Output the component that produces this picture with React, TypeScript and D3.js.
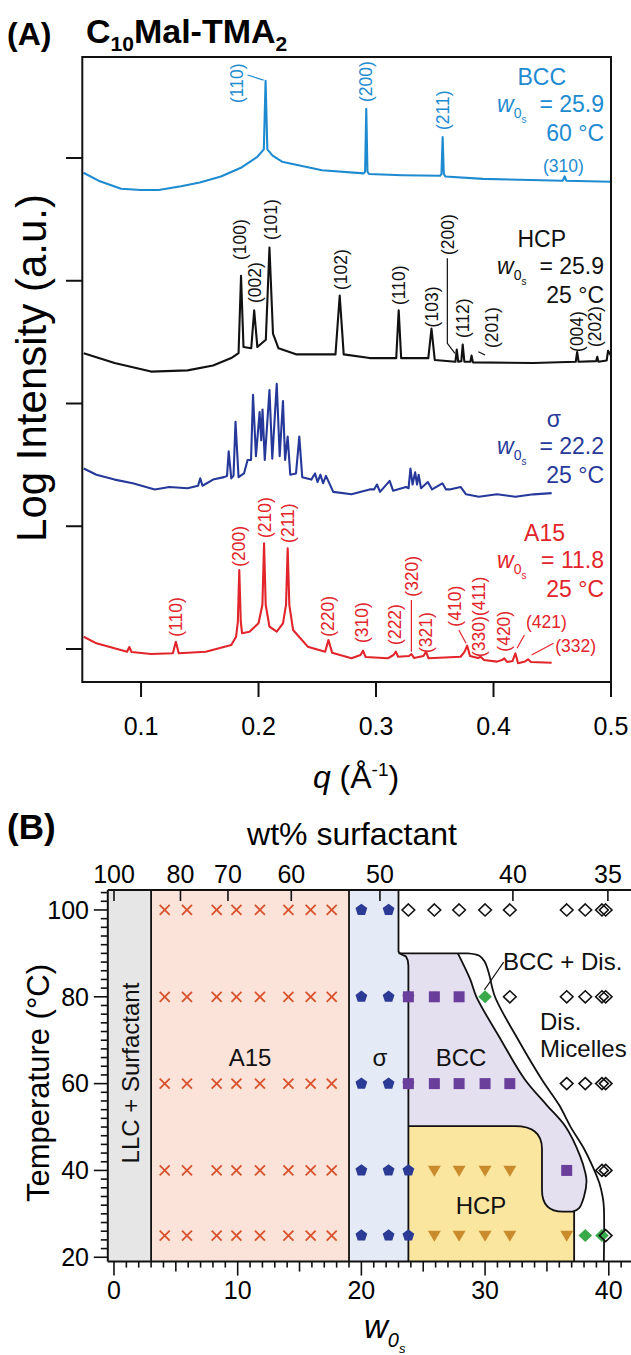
import React from "react";
import * as d3 from "d3";

type P = [number, number];

// ---------------- Panel A: SAXS traces (q in 1/Å, log intensity in offset a.u.) ----------------
const bccTrace: P[] = [
  [0.051, 3.88], [0.065, 3.81], [0.083, 3.75], [0.1, 3.74], [0.115, 3.74], [0.134, 3.77], [0.15, 3.8],
  [0.168, 3.85], [0.185, 3.92], [0.199, 4.01], [0.2045, 4.07], [0.206, 4.63], [0.2075, 4.07], [0.212, 4.02],
  [0.22, 3.97], [0.254, 3.9], [0.2895, 3.875], [0.2907, 3.89], [0.2917, 4.4], [0.2927, 3.89], [0.294, 3.87],
  [0.322, 3.86], [0.3545, 3.855], [0.3557, 3.87], [0.3567, 4.17], [0.3577, 3.87], [0.359, 3.85], [0.391, 3.83],
  [0.459, 3.815], [0.4605, 3.85], [0.462, 3.815], [0.5, 3.807],
];

const hcpTrace: P[] = [
  [0.0512, 2.41], [0.0775, 2.33], [0.1085, 2.26], [0.1396, 2.27], [0.1613, 2.31], [0.1768, 2.37], [0.183, 2.41],
  [0.1851, 3.04], [0.1872, 2.46], [0.1938, 2.45], [0.1963, 2.76], [0.199, 2.46], [0.2062, 2.52], [0.2093, 3.27],
  [0.2123, 2.57], [0.217, 2.45], [0.2325, 2.4], [0.2655, 2.4], [0.2691, 2.88], [0.2725, 2.4], [0.2946, 2.37],
  [0.3172, 2.37], [0.3193, 2.76], [0.3214, 2.37], [0.3445, 2.37], [0.3472, 2.61], [0.35, 2.355], [0.3676, 2.34],
  [0.3687, 2.44], [0.37, 2.34], [0.3726, 2.345], [0.3738, 2.48], [0.3752, 2.34], [0.3803, 2.34], [0.3813, 2.39],
  [0.3825, 2.335], [0.434, 2.33], [0.47, 2.34], [0.4712, 2.42], [0.4724, 2.34], [0.4873, 2.345], [0.4883, 2.38],
  [0.4893, 2.34], [0.4963, 2.35], [0.4975, 2.43], [0.5006, 2.38],
];

const sigmaTrace: P[] = [
  [0.0512, 1.47], [0.062, 1.42], [0.0775, 1.38], [0.093, 1.35], [0.1117, 1.3], [0.1241, 1.32], [0.1396, 1.31],
  [0.1485, 1.33], [0.1504, 1.39], [0.1523, 1.33], [0.1613, 1.38], [0.1706, 1.4], [0.1732, 1.41], [0.1746, 1.61],
  [0.1768, 1.39], [0.1787, 1.41], [0.1804, 1.85], [0.183, 1.4], [0.1876, 1.43], [0.1907, 1.54], [0.1936, 1.54],
  [0.1953, 2.07], [0.1978, 1.57], [0.2009, 1.93], [0.2023, 1.7], [0.2034, 1.95], [0.2053, 1.54], [0.2093, 2.11],
  [0.2117, 1.55], [0.2155, 2.16], [0.218, 1.57], [0.2208, 2.02], [0.2226, 1.54], [0.2248, 1.73], [0.227, 1.42],
  [0.2319, 1.43], [0.2347, 1.73], [0.2372, 1.4], [0.2449, 1.38], [0.2481, 1.43], [0.2502, 1.36], [0.2527, 1.42],
  [0.2549, 1.35], [0.2574, 1.41], [0.2636, 1.28], [0.2791, 1.26], [0.2946, 1.3], [0.2983, 1.3], [0.3008, 1.34],
  [0.3034, 1.28], [0.3116, 1.37], [0.3145, 1.29], [0.3255, 1.32], [0.3277, 1.31], [0.3293, 1.47], [0.3311, 1.34],
  [0.3333, 1.44], [0.3349, 1.34], [0.3363, 1.42], [0.3383, 1.31], [0.3441, 1.36], [0.3477, 1.3], [0.3565, 1.35],
  [0.3596, 1.3], [0.3627, 1.3], [0.372, 1.32], [0.3766, 1.26], [0.3875, 1.24], [0.403, 1.26], [0.4186, 1.24],
  [0.434, 1.26], [0.4495, 1.27],
];

const a15Trace: P[] = [
  [0.0512, 0.1], [0.062, 0.046], [0.0881, -0.022], [0.09, 0.016], [0.0919, -0.024], [0.1085, -0.041],
  [0.1271, -0.035], [0.1296, 0.059], [0.1321, -0.035], [0.1551, -0.022], [0.1768, 0.033], [0.1809, 0.1],
  [0.1824, 0.22], [0.1836, 0.644], [0.1849, 0.22], [0.186, 0.128], [0.1923, 0.141], [0.2, 0.209],
  [0.2033, 0.36], [0.2047, 0.861], [0.2061, 0.36], [0.2093, 0.182], [0.2155, 0.141], [0.2208, 0.209],
  [0.2234, 0.36], [0.2248, 0.82], [0.2262, 0.36], [0.2294, 0.155], [0.2419, 0.019], [0.2567, -0.022],
  [0.2595, 0.073], [0.2626, -0.03], [0.2791, -0.076], [0.2868, -0.049], [0.2889, -0.014], [0.2911, -0.065],
  [0.31, -0.076], [0.3149, -0.049], [0.3169, -0.022], [0.3187, -0.063], [0.3281, -0.057], [0.3301, -0.041],
  [0.3323, -0.073], [0.3404, -0.057], [0.3426, -0.022], [0.3447, -0.076], [0.372, -0.063], [0.3753, -0.024],
  [0.3776, 0.027], [0.38, -0.057], [0.3868, -0.073], [0.3891, -0.063], [0.3919, -0.09], [0.403, -0.103],
  [0.4072, -0.09], [0.4092, -0.076], [0.4115, -0.106], [0.4162, -0.098], [0.4186, -0.035], [0.4209, -0.116],
  [0.4268, -0.102], [0.4294, -0.084], [0.4319, -0.106], [0.4495, -0.112],
];

const qTicks = [0.1, 0.2, 0.3, 0.4, 0.5];
const intensityTicks = [0, 1, 2, 3, 4];

// rotated (hkl) labels: text, q of label centre, log I at label bottom
const bccLabels: [string, number, number][] = [["(110)", 0.1814, 4.448], ["(200)", 0.2917, 4.456], ["(211)", 0.3567, 4.228]];
const bccFlatLabels: [string, number, number][] = [["(310)", 0.4421, 3.889]];
const bccLeaders: P[][] = [[[0.1906, 4.676], [0.2043, 4.635]]];

const hcpLabels: [string, number, number][] = [
  ["(100)", 0.1845, 3.169], ["(002)", 0.1969, 2.819], ["(101)", 0.2102, 3.332], ["(102)", 0.2704, 2.925],
  ["(110)", 0.3193, 2.802], ["(103)", 0.3478, 2.62], ["(200)", 0.3615, 3.21], ["(112)", 0.3743, 2.534],
  ["(201)", 0.3985, 2.452], ["(004)", 0.4712, 2.42], ["(202)", 0.4867, 2.46],
];
const hcpLeaders: P[][] = [
  [[0.3607, 3.183], [0.3607, 2.49], [0.3672, 2.409]],
  [[0.3871, 2.422], [0.3928, 2.395]],
];

const a15Labels: [string, number, number][] = [
  ["(110)", 0.1296, 0.1], ["(200)", 0.183, 0.67], ["(210)", 0.2053, 0.904], ["(211)", 0.2248, 0.864],
  ["(220)", 0.2589, 0.1], ["(310)", 0.2883, 0.049], ["(222)", 0.3162, 0.033], ["(320)", 0.3301, 0.426],
  ["(321)", 0.3426, -0.033], ["(410)", 0.3674, 0.182], ["(330)(411)", 0.3875, -0.065], ["(420)", 0.4092, -0.022],
];
const a15FlatLabels: [string, number, number][] = [["(421)", 0.4277, 0.169], ["(332)", 0.4526, -0.022]];
const a15Leaders: P[][] = [
  [[0.3301, 0.399], [0.3301, -0.022]],
  [[0.3705, 0.155], [0.3766, 0.046]],
  [[0.4263, 0.114], [0.42, 0.006]],
  [[0.4511, 0.046], [0.4324, -0.049]],
];

// ---------------- Panel B: phase diagram ----------------
const wTicks = [0, 10, 20, 30, 40];
const tempTicks = [20, 40, 60, 80, 100];
const wtPercentTicks = [100, 80, 70, 60, 50, 40, 35];
const waterPerSurfactant = 21.5; // converts wt% surfactant to w0s

const rowTemps = [100, 80, 60, 40, 25];
const sampleW = [4.1, 5.9, 8.3, 9.9, 11.8, 14.1, 15.9, 17.6, 20.0, 22.2, 23.8, 25.9, 27.9, 30.0, 32.0, 36.6, 38.1, 39.45, 39.75];
// X: A15, P: sigma, Q: sigma+BCC, S: BCC, T: HCP, G: coexistence, D: disordered micelles, -: none
const rowPhases = [
  "XXXXXXXXPPDDDDDDDDD",
  "XXXXXXXXPPQSSGDDDDD",
  "XXXXXXXXPPQSSSSDDDD",
  "XXXXXXXXPPPTTTTS-DD",
  "XXXXXXXXPPPTTTTTGGD",
];

const llcEdge = 3.0;
const a15Edge = 19.0;
const sigmaBoundary: P[] = [[23.0, 104.6], [23.0, 90.4], [23.2, 89.8], [23.6, 89.3], [23.75, 88.4], [23.8, 87.2], [23.8, 19]];
const bccInnerLine: P[] = [
  [27.8, 90], [28.8, 84], [29.3, 80], [31.3, 70], [33.2, 61], [35.0, 55], [36.5, 50.1], [37.7, 43.2],
  [38.1, 39.5], [38.2, 37.5], [38.0, 34], [37.6, 31.3], [37.1, 30.5],
];
const disOuterLine: P[] = [
  [28.6, 90], [29.5, 89.5], [29.95, 88.2], [30.3, 85.5], [30.8, 80], [32.7, 70], [34.6, 60.9], [36.0, 55],
  [36.9, 50.1], [38.0, 45], [38.7, 40.9], [39.25, 37], [39.5, 34], [39.6, 31.7], [39.6, 19],
];

const cBCC = "#1e8bd1";
const cHCP = "#111111";
const cSIG = "#26399a";
const cA15 = "#e2242b";

const FONT = "'Liberation Sans', Arial, Helvetica, sans-serif";

function pentagon(r: number) {
  const pts = d3.range(5).map((k) => {
    const a = (-90 + 72 * k) * (Math.PI / 180);
    return [r * Math.cos(a), r * Math.sin(a)];
  });
  return "M" + pts.map((p) => p.join(",")).join("L") + "Z";
}

function Marker({ code, x, y }: { code: string; x: number; y: number }) {
  const t = `translate(${x},${y})`;
  const pent = <path transform={t} d={pentagon(6.2)} fill="#2b3a94" />;
  const sq = <path transform={t} d="M-5.5,-5.5h11v11h-11Z" fill="#6a3f9c" />;
  switch (code) {
    case "X":
      return <path transform={t} d="M-5,-5L5,5M5,-5L-5,5" stroke="#d9512b" strokeWidth={1.8} fill="none" />;
    case "P":
      return pent;
    case "Q":
      return (
        <g>
          {pent}
          {sq}
        </g>
      );
    case "S":
      return sq;
    case "T":
      return <path transform={t} d="M-6.5,-4.8L6.5,-4.8L0,6.2Z" fill="#c98b2c" />;
    case "G":
      return <path transform={t} d="M0,-6.5L6.8,0L0,6.5L-6.8,0Z" fill="#3aa94a" />;
    case "D":
      return <path transform={t} d="M0,-6L6.3,0L0,6L-6.3,0Z" fill="none" stroke="#111" strokeWidth={1.6} />;
    default:
      return null;
  }
}

export default function App() {
  const W = 631;
  const H = 1355;

  // Panel A scales
  const xA = d3.scaleLinear().domain([0.05, 0.5]).range([82.3, 611]);
  const yA = d3.scaleLinear().domain([-0.269, 4.823]).range([682, 57]);
  const lineA = d3.line<P>().x((d) => xA(d[0])).y((d) => yA(d[1]));

  // Panel B scales
  const xB = d3.scaleLinear().domain([-0.5, 42.5]).range([107.8, 639.7]);
  const yB = d3.scaleLinear().domain([19, 104.6]).range([1261.6, 890]);
  const lineB = d3.line<P>().x((d) => xB(d[0])).y((d) => yB(d[1]));
  const curveB = d3.line<P>().x((d) => xB(d[0])).y((d) => yB(d[1])).curve(d3.curveCatmullRom.alpha(0.5));

  const [bTop, bBot] = [yB(104.6), yB(19)];
  const bLeft = xB(-0.5);

  const sigmaFill = lineB([[a15Edge, 19], [a15Edge, 104.6], ...sigmaBoundary]) + "Z";
  const innerPath = curveB(bccInnerLine) as string;
  const lavender =
    innerPath +
    `L${xB(23.8)},${yB(30.5)}L${xB(23.8)},${yB(87.2)}L${xB(23.75)},${yB(88.4)}L${xB(23.6)},${yB(89.3)}L${xB(23.2)},${yB(89.8)}L${xB(23.0)},${yB(90)}Z`;
  const outerPath = `M${xB(23.0)},${yB(90)}` + (curveB(disOuterLine) as string).replace(/^M/, "L");

  const hcp = d3.path();
  hcp.moveTo(xB(23.8), yB(50.2));
  hcp.lineTo(xB(32.4), yB(50.2));
  hcp.quadraticCurveTo(xB(34.6), yB(50.2), xB(34.6), yB(45.0));
  hcp.lineTo(xB(34.6), yB(35.5));
  hcp.quadraticCurveTo(xB(34.6), yB(30.5), xB(36.3), yB(30.5));
  hcp.lineTo(xB(37.2), yB(30.5));
  hcp.lineTo(xB(37.2), yB(19));
  const hcpLine = hcp.toString();
  const hcpFill = hcpLine + `L${xB(23.8)},${yB(19)}Z`;

  const wtToW = (wt: number) => (100 / wt - 1) * waterPerSurfactant;

  const rotLabel = (txt: string, x: number, y: number, color: string, key: string) => (
    <text key={key} transform={`translate(${x},${y}) rotate(-90)`} dy="0.35em" fill={color} fontSize={17.5}>
      {txt}
    </text>
  );

  const legend = (name: string, nameX: number, wVal: string, temp: string, color: string, y0: number, key: string) => (
    <g key={key} fill={color} fontSize={23}>
      <text x={nameX} y={y0} textAnchor="end">{name}</text>
      <text x={497} y={y0 + 27}>
        <tspan fontStyle="italic">w</tspan>
        <tspan fontSize={14} dy={6}>0</tspan>
        <tspan fontSize={10} dy={5}>s</tspan>
      </text>
      <text x={604} y={y0 + 27} textAnchor="end">{"= " + wVal}</text>
      <text x={604} y={y0 + 56} textAnchor="end">{temp}</text>
    </g>
  );

  return (
    <svg
      width={W}
      height={H}
      viewBox={`0 0 ${W} ${H}`}
      style={{ position: "absolute", left: 0, top: 0, background: "#fff" }}
      fontFamily={FONT}
    >
      <defs>
        <clipPath id="clipA">
          <rect x={xA(0.05)} y={57} width={xA(0.5) - xA(0.05)} height={625} />
        </clipPath>
      </defs>

      {/* ================= Panel A ================= */}
      <text x={7} y={45} fontSize={32} fontWeight="bold">(A)</text>
      <text x={86} y={43} fontSize={34} fontWeight="bold">
        C<tspan fontSize={21} dy={8}>10</tspan>
        <tspan dy={-8}>Mal-TMA</tspan>
        <tspan fontSize={21} dy={8}>2</tspan>
      </text>

      <g clipPath="url(#clipA)" fill="none" strokeWidth={2.1} strokeLinejoin="round">
        <path d={lineA(bccTrace) as string} stroke={cBCC} />
        <path d={lineA(hcpTrace) as string} stroke={cHCP} />
        <path d={lineA(sigmaTrace) as string} stroke={cSIG} />
        <path d={lineA(a15Trace) as string} stroke={cA15} />
      </g>

      {/* peak labels */}
      {bccLabels.map((l, i) => rotLabel(l[0], xA(l[1]), yA(l[2]), cBCC, "b" + i))}
      {bccFlatLabels.map((l, i) => (
        <text key={"bf" + i} x={xA(l[1])} y={yA(l[2])} fill={cBCC} fontSize={17.5}>{l[0]}</text>
      ))}
      {bccLeaders.map((l, i) => (
        <path key={"bl" + i} d={lineA(l) as string} stroke={cBCC} strokeWidth={1.2} fill="none" />
      ))}
      {hcpLabels.map((l, i) => rotLabel(l[0], xA(l[1]), yA(l[2]), cHCP, "h" + i))}
      {hcpLeaders.map((l, i) => (
        <path key={"hl" + i} d={lineA(l) as string} stroke={cHCP} strokeWidth={1.2} fill="none" />
      ))}
      {a15Labels.map((l, i) => rotLabel(l[0], xA(l[1]), yA(l[2]), cA15, "a" + i))}
      {a15FlatLabels.map((l, i) => (
        <text key={"af" + i} x={xA(l[1])} y={yA(l[2])} fill={cA15} fontSize={17.5}>{l[0]}</text>
      ))}
      {a15Leaders.map((l, i) => (
        <path key={"al" + i} d={lineA(l) as string} stroke={cA15} strokeWidth={1.2} fill="none" />
      ))}

      {legend("BCC", 566, "25.9", "60 °C", cBCC, 85, "lg1")}
      {legend("HCP", 566, "25.9", "25 °C", cHCP, 246.7, "lg2")}
      {legend("σ", 561, "22.2", "25 °C", cSIG, 426.7, "lg3")}
      {legend("A15", 565, "11.8", "25 °C", cA15, 540.5, "lg4")}

      {/* frame and axes A */}
      <rect x={xA(0.05)} y={57} width={xA(0.5) - xA(0.05)} height={625} fill="none" stroke="#111" strokeWidth={2} />
      {intensityTicks.map((t) => (
        <line key={"yt" + t} x1={66} x2={xA(0.05)} y1={yA(t)} y2={yA(t)} stroke="#111" strokeWidth={2} />
      ))}
      {qTicks.map((t) => (
        <g key={"xt" + t}>
          <line x1={xA(t)} x2={xA(t)} y1={682} y2={697} stroke="#111" strokeWidth={2} />
          <text x={xA(t)} y={735} textAnchor="middle" fontSize={25}>{t.toFixed(1)}</text>
        </g>
      ))}
      <text transform="translate(46,368) rotate(-90)" textAnchor="middle" fontSize={42}>Log Intensity (a.u.)</text>
      <text x={356} y={788} textAnchor="middle" fontSize={32}>
        <tspan fontStyle="italic">q</tspan> (Å<tspan fontSize={19} dy={-12}>-1</tspan>
        <tspan dy={12}>)</tspan>
      </text>

      {/* ================= Panel B ================= */}
      <text x={7} y={839} fontSize={35} fontWeight="bold">(B)</text>
      <text x={352} y={845} textAnchor="middle" fontSize={32}>wt% surfactant</text>

      <rect x={bLeft} y={bTop} width={xB(llcEdge) - bLeft} height={bBot - bTop} fill="#e6e6e6" />
      <rect x={xB(llcEdge)} y={bTop} width={xB(a15Edge) - xB(llcEdge)} height={bBot - bTop} fill="#fbe3da" />
      <path d={sigmaFill} fill="#e4eaf6" />
      <path d={lavender} fill="#e5e0f0" />
      <path d={hcpFill} fill="#fbe6a0" />

      <g fill="none" stroke="#111" strokeWidth={1.8} strokeLinejoin="round">
        <line x1={xB(llcEdge)} x2={xB(llcEdge)} y1={bTop} y2={bBot} />
        <line x1={xB(a15Edge)} x2={xB(a15Edge)} y1={bTop} y2={bBot} />
        <path d={lineB(sigmaBoundary) as string} />
        <path d={innerPath} />
        <path d={outerPath} />
        <path d={hcpLine} />
      </g>

      {rowTemps.map((T, r) =>
        sampleW.map((w, i) => <Marker key={`m${r}-${i}`} code={rowPhases[r][i]} x={xB(w)} y={yB(T)} />)
      )}

      <g fontSize={24} fill="#111">
        <text x={250} y={1066} textAnchor="middle">A15</text>
        <text x={380} y={1066} textAnchor="middle">σ</text>
        <text x={461} y={1066} textAnchor="middle">BCC</text>
        <text x={481} y={1214} textAnchor="middle">HCP</text>
        <text x={540} y={1030}>Dis.</text>
        <text x={540} y={1057}>Micelles</text>
        <text x={503} y={970}>BCC + Dis.</text>
        <text transform="translate(131,1073) rotate(-90)" textAnchor="middle" dy="0.35em">LLC + Surfactant</text>
      </g>
      <path d={lineB([[31.5, 88.0], [29.95, 81.6]]) as string} stroke="#111" strokeWidth={1.1} fill="none" />

      {/* axes B */}
      <g stroke="#111" strokeWidth={2}>
        <line x1={bLeft} x2={bLeft} y1={bTop} y2={bBot} />
        <line x1={bLeft} x2={W} y1={bTop} y2={bTop} />
        <line x1={bLeft} x2={W} y1={bBot} y2={bBot} />
      </g>
      {d3.range(20, 105, 2).map((t) => (
        <line key={"ly" + t} x1={bLeft - (t % 20 === 0 ? 14 : 7)} x2={bLeft} y1={yB(t)} y2={yB(t)} stroke="#111" strokeWidth={1.6} />
      ))}
      {tempTicks.map((t) => (
        <text key={"tl" + t} x={89} y={yB(t)} dy="0.35em" textAnchor="end" fontSize={25}>{t}</text>
      ))}
      {d3.range(0, 43, 1).map((w) => (
        <line
          key={"bx" + w}
          x1={xB(w)}
          x2={xB(w)}
          y1={bBot}
          y2={bBot + (w % 10 === 0 ? 14 : w % 5 === 0 ? 10 : 6)}
          stroke="#111"
          strokeWidth={1.6}
        />
      ))}
      {wTicks.map((w) => (
        <text key={"wl" + w} x={xB(w)} y={1299} textAnchor="middle" fontSize={25}>{w}</text>
      ))}
      {wtPercentTicks.map((wt) => (
        <g key={"tp" + wt}>
          <line x1={xB(wtToW(wt))} x2={xB(wtToW(wt))} y1={bTop} y2={bTop + 11} stroke="#111" strokeWidth={1.6} />
          <text x={xB(wtToW(wt))} y={883} textAnchor="middle" fontSize={25}>{wt}</text>
        </g>
      ))}
      <text transform="translate(49,1083) rotate(-90)" textAnchor="middle" fontSize={31}>Temperature (°C)</text>
      <text x={364} y={1338} fontSize={33}>
        <tspan fontStyle="italic">w</tspan>
        <tspan fontSize={20} fontStyle="italic" dy={9}>0</tspan>
        <tspan fontSize={13} fontStyle="italic" dy={6}>s</tspan>
      </text>
    </svg>
  );
}
